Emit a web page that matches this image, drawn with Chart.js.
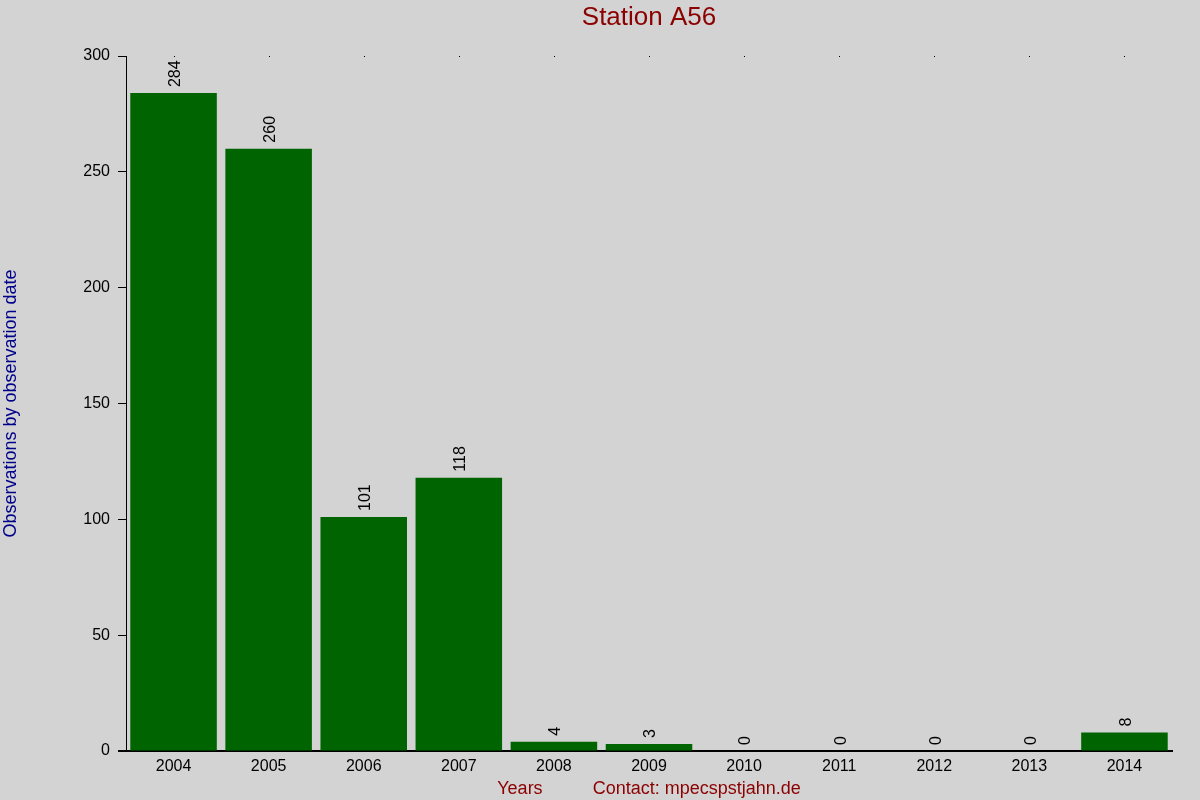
<!DOCTYPE html>
<html>
<head>
<meta charset="utf-8">
<style>
  html, body { margin: 0; padding: 0; background: #d3d3d3; }
  canvas { display: block; }
</style>
<script src="https://cdn.jsdelivr.net/npm/chart.js@4"></script>
</head>
<body>
<canvas id="myChart" width="1200" height="800"></canvas>
<script>
// Données du graphique
const years = ['2004', '2005', '2006', '2007', '2008', '2009', '2010', '2011', '2012', '2013', '2014'];
const observations = [284, 260, 101, 118, 4, 3, 0, 0, 0, 0, 8];
const yTicks = [0, 50, 100, 150, 200, 250, 300];
const chartTitle = 'Station A56';

const FONT = "'Liberation Sans', Arial, sans-serif";

// Titre centré sur la zone du graphique, valeurs verticales, petits points en haut
const extras = {
    id: 'extras',
    afterDatasetsDraw(chart) {
        const ctx = chart.ctx;
        const meta = chart.getDatasetMeta(0);
        const xScale = chart.scales.x;
        const area = chart.chartArea;
        ctx.save();

        ctx.fillStyle = '#8b0000';
        ctx.font = '26px ' + FONT;
        ctx.textAlign = 'center';
        ctx.textBaseline = 'middle';
        ctx.fillText(chartTitle, (area.left + area.right) / 2, 18);

        ctx.fillStyle = '#000';
        ctx.font = '16px ' + FONT;
        ctx.textAlign = 'left';
        ctx.textBaseline = 'middle';
        meta.data.forEach((bar, i) => {
            ctx.save();
            ctx.translate(bar.x + 2, bar.y - 6);
            ctx.rotate(-Math.PI / 2);
            ctx.fillText(String(observations[i]), 0, 0);
            ctx.restore();
        });

        years.forEach((y, i) => {
            const x = Math.round(xScale.getPixelForTick(i));
            ctx.fillRect(x, area.top, 1, 1);
        });
        // prolongement de l'axe x vers la gauche
        ctx.fillRect(area.left - 8, area.bottom - 1, 8, 2);
        ctx.restore();
    }
};

new Chart(document.getElementById('myChart'), {
    type: 'bar',
    data: {
        labels: years,
        datasets: [{
            data: observations,
            backgroundColor: '#006400',
            barPercentage: 0.91,
            categoryPercentage: 1.0
        }]
    },
    options: {
        responsive: false,
        animation: false,
        layout: { padding: { left: 0, right: 28, top: 56, bottom: 0 } },
        plugins: {
            legend: { display: false },
            tooltip: { enabled: false },
            title: { display: false }
        },
        scales: {
            x: {
                grid: { display: false, drawTicks: false },
                border: { display: true, color: '#000', width: 2 },
                ticks: {
                    color: '#000',
                    font: { family: FONT, size: 16 },
                    padding: 6,
                    maxRotation: 0
                },
                title: {
                    display: true,
                    text: 'Years          Contact: mpecspstjahn.de',
                    color: '#8b0000',
                    font: { family: FONT, size: 18 },
                    padding: { top: 0, bottom: 0 }
                },
                afterFit(scale) { scale.height = 49; }
            },
            y: {
                min: 0,
                max: 300,
                afterBuildTicks(scale) {
                    scale.ticks = yTicks.map(v => ({ value: v }));
                },
                grid: { drawOnChartArea: false, tickLength: 8, color: '#000', tickColor: '#000' },
                border: { display: true, color: '#000', width: 1 },
                ticks: {
                    color: '#000',
                    font: { family: FONT, size: 16 },
                    padding: 8
                },
                title: {
                    display: true,
                    text: 'Observations by observation date',
                    color: '#00008b',
                    font: { family: FONT, size: 18 },
                    padding: { top: 0, bottom: 0 }
                },
                afterFit(scale) { scale.width = 126; }
            }
        }
    },
    plugins: [extras, {
        id: 'bg',
        beforeDraw(chart) {
            const ctx = chart.ctx;
            ctx.save();
            ctx.fillStyle = '#d3d3d3';
            ctx.fillRect(0, 0, chart.width, chart.height);
            ctx.restore();
        }
    }]
});
</script>
</body>
</html>
